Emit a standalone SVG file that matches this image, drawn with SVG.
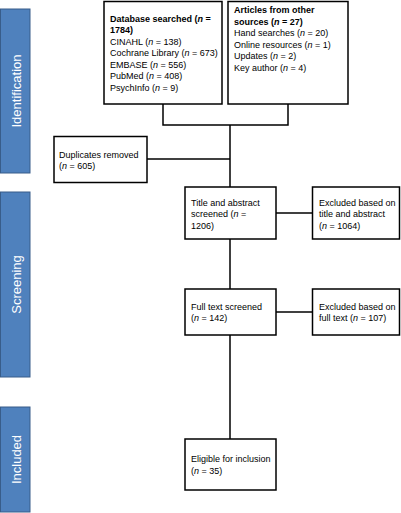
<svg xmlns="http://www.w3.org/2000/svg" width="401" height="513" viewBox="0 0 401 513">
<style>
.bg{fill:#ffffff}
.box{fill:#ffffff;stroke:#000000;stroke-width:1.5}
.bar{fill:#4F81BD;stroke:#385D8A;stroke-width:1}
.t{font-family:"Liberation Sans",Arial,sans-serif;font-size:9px;fill:#000000}
.b{font-weight:bold}
.lab{font-family:"Liberation Sans",Arial,sans-serif;font-size:13px;fill:#ffffff;text-anchor:middle}
.ln{fill:none;stroke:#000000;stroke-width:1.5}
</style>
<rect class="bg" x="0" y="0" width="401" height="513"/>
<g id="phase-identification">
<rect class="bar" x="0.5" y="9" width="29.5" height="164"/>
<text class="lab" transform="translate(15,91) rotate(-90)" y="5.5">Identification</text>
</g>
<g id="phase-screening">
<rect class="bar" x="0.5" y="192" width="29.5" height="185"/>
<text class="lab" transform="translate(15,284.5) rotate(-90)" y="5.5">Screening</text>
</g>
<g id="phase-included">
<rect class="bar" x="0.5" y="407" width="29.5" height="105"/>
<text class="lab" transform="translate(15,459.5) rotate(-90)" y="5.5">Included</text>
</g>
<g id="connectors">
<polyline class="ln" points="163,104 163,125 288,125 288,104"/>
<line class="ln" x1="230" y1="125" x2="230" y2="187"/>
<line class="ln" x1="147" y1="159" x2="230" y2="159"/>
<line class="ln" x1="276" y1="213" x2="312" y2="213"/>
<line class="ln" x1="230" y1="239" x2="230" y2="289"/>
<line class="ln" x1="276" y1="312" x2="312" y2="312"/>
<line class="ln" x1="230" y1="335" x2="230" y2="439"/>
</g>
<g id="database">
<rect class="box" x="104" y="1.5" width="118" height="102.5"/>
<text class="t b" x="110" y="21.5">Database searched (<tspan font-style="italic">n</tspan> =</text>
<text class="t b" x="110" y="33">1784)</text>
<text class="t" x="110" y="44.5">CINAHL (<tspan font-style="italic">n</tspan> = 138)</text>
<text class="t" x="110" y="56">Cochrane Library (<tspan font-style="italic">n</tspan> = 673)</text>
<text class="t" x="110" y="67.5">EMBASE (<tspan font-style="italic">n</tspan> = 556)</text>
<text class="t" x="110" y="79">PubMed (<tspan font-style="italic">n</tspan> = 408)</text>
<text class="t" x="110" y="90.5">PsychInfo (<tspan font-style="italic">n</tspan> = 9)</text>
</g>
<g id="other-sources">
<rect class="box" x="228" y="1.5" width="120" height="102.5"/>
<text class="t b" x="234" y="13">Articles from other</text>
<text class="t b" x="234" y="24.5">sources (<tspan font-style="italic">n</tspan> = 27)</text>
<text class="t" x="234" y="36">Hand searches  (<tspan font-style="italic">n</tspan> = 20)</text>
<text class="t" x="234" y="47.5">Online resources (<tspan font-style="italic">n</tspan> = 1)</text>
<text class="t" x="234" y="59">Updates (<tspan font-style="italic">n</tspan> = 2)</text>
<text class="t" x="234" y="70.5">Key author (<tspan font-style="italic">n</tspan> = 4)</text>
</g>
<g id="duplicates">
<rect class="box" x="54" y="136.5" width="93" height="46"/>
<text class="t" x="59" y="157.5">Duplicates removed</text>
<text class="t" x="59" y="169">(<tspan font-style="italic">n</tspan> = 605)</text>
</g>
<g id="title-abstract">
<rect class="box" x="185" y="187" width="91" height="52"/>
<text class="t" x="191" y="205.5">Title and abstract</text>
<text class="t" x="191" y="217">screened (<tspan font-style="italic">n</tspan> =</text>
<text class="t" x="191" y="228.5">1206)</text>
</g>
<g id="excluded-title">
<rect class="box" x="312.5" y="187" width="87" height="52"/>
<text class="t" x="319" y="205.5">Excluded based on</text>
<text class="t" x="319" y="217">title and abstract</text>
<text class="t" x="319" y="228.5">(<tspan font-style="italic">n</tspan> = 1064)</text>
</g>
<g id="full-text">
<rect class="box" x="185" y="289" width="91" height="46"/>
<text class="t" x="191" y="309.5">Full text screened</text>
<text class="t" x="191" y="321">(<tspan font-style="italic">n</tspan> = 142)</text>
</g>
<g id="excluded-full">
<rect class="box" x="312.5" y="289" width="87" height="46"/>
<text class="t" x="319" y="309.5">Excluded based on</text>
<text class="t" x="319" y="321">full text (<tspan font-style="italic">n</tspan> = 107)</text>
</g>
<g id="eligible">
<rect class="box" x="185" y="439" width="91" height="51"/>
<text class="t" x="191" y="462">Eligible for inclusion</text>
<text class="t" x="191" y="474">(<tspan font-style="italic">n</tspan> = 35)</text>
</g>
</svg>
